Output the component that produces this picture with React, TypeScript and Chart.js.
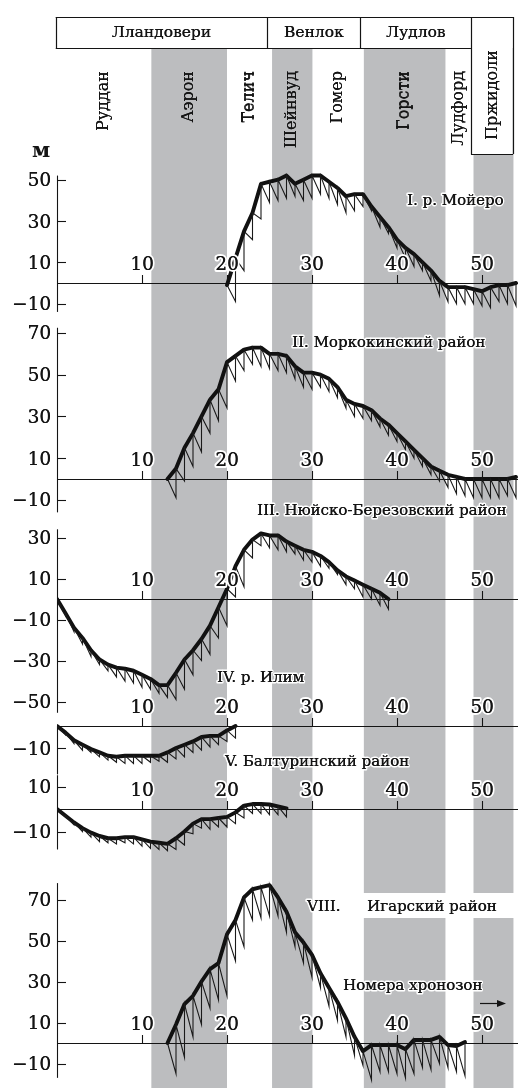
import React, { useEffect, useRef } from "react";
import { Chart, registerables } from "chart.js";

Chart.register(...registerables);

// ---------- DATA ----------
const seriesNames = ["Лландовери", "Венлок", "Лудлов", "Пржидоли"];
const seriesBounds = [-0.15, 24.7, 35.7, 48.7, 53.6];
const stageNames = ["Руддан", "Аэрон", "Телич", "Шейнвуд", "Гомер", "Горсти", "Лудфорд", "Пржидоли"];
const stageBounds = [0, 11.1, 20, 25.3, 30.05, 36.1, 45.7, 49, 53.7];
const shadedStages = [1, 3, 5, 7];
const xTickValues = [10, 20, 30, 40, 50];

// I. р. Мойеро
const startI = 20;
const topsI = [-1, 12, 25, 34, 48, 49, 50, 52, 48, 50, 52, 52, 49, 46, 42, 43, 43, 37, 32, 27, 21, 17, 14, 10, 6, 1, -2, -2, -2, -3, -4, -2, -1, -1, 0];
const lowsI = [null, -9, 6, 21, 31, 39, 40, 41, 42, 40, 41, 43, 41, 38, 34, 35, 37, 35, 27, 24, 17, 12, 8, 6, 1, -6, -9, -10, -10, -10, -11, -12, -9, -10, -11];

// II. Моркокинский район
const startII = 13;
const topsII = [0, 5, 15, 22, 30, 38, 43, 56, 59, 62, 63, 63, 60, 60, 59, 54, 51, 51, 50, 48, 44, 38, 36, 35, 33, 29, 26, 22, 18, 14, 10, 6, 4, 2, 1, 0, 0, 0, 0, 0, 0, 1];
const lowsII = [null, -9, -1, 6, 13, 22, 28, 34, 47, 52, 55, 54, 53, 52, 51, 48, 44, 43, 44, 42, 39, 34, 30, 29, 28, 25, 21, 18, 14, 10, 6, 2, -1, -4, -7, -8, -9, -9, -9, -9, -8, -9];

// III. Нюйско-Березовский район
const startIII = 20;
const topsIII = [5, 16, 24, 29, 32, 31, 31, 28, 26, 24, 23, 21, 18, 14, 11, 9, 7, 5, 3, 0];
const lowsIII = [null, 1, 6, 20, 26, 25, 24, 23, 22, 19, 18, 16, 15, 12, 7, 5, 1, 0, -3, -5];

// IV. р. Илим
const startIV = 0;
const topsIV = [0, -7, -14, -19, -25, -29.5, -32, -33.5, -34, -35, -37, -39, -42, -42, -36, -29.5, -25, -19.5, -13, -4, 5];
const lowsIV = [null, -8, -16, -22, -28, -32, -35, -38, -40, -41, -43, -44, -46, -48, -49, -44, -37, -30, -27, -19, -13];

// V. Балтуринский район
const startV = 0;
const topsV = [0, -3, -6.5, -8.5, -10.5, -12, -13.5, -14, -13.5, -13.5, -13.5, -13.5, -13.5, -12, -10, -8.5, -7, -5, -4.5, -4.5, -2, 0];
const lowsV = [null, -4, -8, -11, -12, -14, -15.5, -16.5, -17, -17, -17, -16.5, -16, -16.5, -15, -14, -12, -11, -9.5, -8.5, -7, -5.5];

// VI (unlabelled)
const startVI = 0;
const topsVI = [0, -3, -6, -8.5, -10.5, -12, -13, -13, -12.5, -12.5, -13.5, -14.5, -15, -15.5, -13, -10, -6.5, -4.5, -4.5, -4, -3.5, -1.5, 1.5, 2.2, 2.2, 2, 1.2, 0.3];
const lowsVI = [null, -3.5, -7, -10, -12.5, -14.5, -15, -15.5, -15, -15.5, -16.5, -17.5, -18, -18.5, -18, -16, -11, -8.5, -9, -8, -8, -6.5, -4, -2, -2, -2.5, -2.5, -3.5];

// VIII. Игарский район
const startVIII = 13;
const topsVIII = [0, 9, 19, 23, 30, 36, 39, 53, 60, 71, 75, 76, 77, 71, 64, 54, 49, 43, 34, 27, 20, 12, 3, -4, -1, -1, -1, -1, -3, 1.5, 1.5, 1.5, 3, -1, -1.5, 0.5];
const lowsVIII = [null, -15, -7, 3, 9, 17, 21, 23, 40, 47, 60, 61, 62, 62, 54, 47, 39, 32, 27, 18, 11, 3, -6, -11, -18, -14, -14, -15, -17, -15, -12, -13, -10, -12, -14, -16];

// ---------- LAYOUT ----------
const W = 518;
const H = 1088;
const X0PX = 57;
const PX_PER_ZONE = 8.5;
const HEADER_TOP = 17;
const HEADER_BOTTOM = 48;
const PRZ_BOX_BOTTOM = 154;
const BAND = "#bcbdbf";
const INK = "#141414";
const SERIF = '"DejaVu Serif", "Liberation Serif", serif';

const axes = [
  { id: "yI", zero: 283, k: 2.066, from: 52, to: -14, ticks: [50, 30, 10, -10] },
  { id: "yII", zero: 479, k: 2.086, from: 72.5, to: -16, ticks: [70, 50, 30, 10, -10] },
  { id: "yIII", zero: 599, k: 2.05, from: 34, to: -55.5, ticks: [30, 10, -10, -30, -50] },
  { id: "yV", zero: 726, k: 2.2, from: 0, to: -22, ticks: [-10] },
  { id: "yVI", zero: 809, k: 2.25, from: 15, to: -18, ticks: [10, -10] },
  { id: "yVIII", zero: 1043, k: 2.05, from: 78, to: -17, ticks: [70, 50, 30, 10, -10] },
];

const panels = [
  { axis: "yI", start: startI, tops: topsI, lows: lowsI },
  { axis: "yII", start: startII, tops: topsII, lows: lowsII },
  { axis: "yIII", start: startIII, tops: topsIII, lows: lowsIII },
  { axis: "yIII", start: startIV, tops: topsIV, lows: lowsIV },
  { axis: "yV", start: startV, tops: topsV, lows: lowsV },
  { axis: "yVI", start: startVI, tops: topsVI, lows: lowsVI },
  { axis: "yVIII", start: startVIII, tops: topsVIII, lows: lowsVIII },
];

const titles = [
  { text: "I. р. Мойеро", x: 407, y: 205 },
  { text: "II. Моркокинский район", x: 292, y: 347 },
  { text: "III. Нюйско-Березовский район", x: 257, y: 515 },
  { text: "IV. р. Илим", x: 217, y: 682 },
  { text: "V. Балтуринский район", x: 225, y: 766 },
  { text: "VIII.", x: 307, y: 911 },
  { text: "Игарский район", x: 367, y: 911 },
  { text: "Номера хронозон", x: 343, y: 990 },
];

function tickText(v: number) {
  return v < 0 ? "\u2212" + Math.abs(v) : String(v);
}

function haloText(ctx: CanvasRenderingContext2D, text: string, x: number, y: number, lw = 3) {
  ctx.save();
  ctx.lineJoin = "round";
  ctx.strokeStyle = "#ffffff";
  ctx.lineWidth = lw;
  ctx.strokeText(text, x, y);
  ctx.restore();
  ctx.fillText(text, x, y);
  // slight emboldening to imitate the heavier print face
  ctx.fillText(text, x + 0.35, y);
}

function hLine(ctx: CanvasRenderingContext2D, x0: number, x1: number, y: number) {
  const yy = Math.round(y) + 0.5;
  ctx.beginPath();
  ctx.moveTo(x0, yy);
  ctx.lineTo(x1, yy);
  ctx.stroke();
}
function vLine(ctx: CanvasRenderingContext2D, x: number, y0: number, y1: number) {
  const xx = Math.round(x) + 0.5;
  ctx.beginPath();
  ctx.moveTo(xx, y0);
  ctx.lineTo(xx, y1);
  ctx.stroke();
}

const stratPlugin = {
  id: "strat",
  beforeDatasetsDraw(chart: any) {
    const ctx: CanvasRenderingContext2D = chart.ctx;
    const xs = chart.scales.x;
    const X = (v: number) => xs.getPixelForValue(v);
    const right = chart.chartArea.right;
    ctx.save();
    ctx.fillStyle = "#ffffff";
    ctx.fillRect(0, 0, W, H);

    // stage bands
    ctx.fillStyle = BAND;
    shadedStages.forEach((i) => {
      const a = X(stageBounds[i]);
      const b = X(stageBounds[i + 1]);
      ctx.fillRect(a, HEADER_BOTTOM, b - a, H - HEADER_BOTTOM);
    });
    // white gap behind the VIII label
    ctx.fillStyle = "#ffffff";
    ctx.fillRect(360, 893, W - 360, 25);

    // header boxes
    const sx = seriesBounds.map(X);
    ctx.fillStyle = "#ffffff";
    ctx.fillRect(sx[3], HEADER_TOP, sx[4] - sx[3], PRZ_BOX_BOTTOM - HEADER_TOP);
    ctx.strokeStyle = INK;
    ctx.lineWidth = 1.2;
    hLine(ctx, sx[0], sx[4] + 0.5, HEADER_TOP);
    hLine(ctx, sx[0], sx[3], HEADER_BOTTOM);
    hLine(ctx, sx[3], sx[4] + 0.5, PRZ_BOX_BOTTOM);
    vLine(ctx, sx[0], HEADER_TOP, HEADER_BOTTOM);
    vLine(ctx, sx[1], HEADER_TOP, HEADER_BOTTOM);
    vLine(ctx, sx[2], HEADER_TOP, HEADER_BOTTOM);
    vLine(ctx, sx[3], HEADER_TOP, PRZ_BOX_BOTTOM);
    vLine(ctx, sx[4], HEADER_TOP, PRZ_BOX_BOTTOM);

    ctx.fillStyle = INK;
    ctx.font = "15.5px " + SERIF;
    ctx.textAlign = "center";
    ctx.textBaseline = "alphabetic";
    for (let i = 0; i < 3; i++) {
      const cx = (sx[i] + sx[i + 1]) / 2;
      ctx.fillText(seriesNames[i], cx, 37);
      ctx.fillText(seriesNames[i], cx + 0.35, 37);
    }

    // stage names (rotated)
    ctx.font = "16px " + SERIF;
    stageNames.forEach((name, i) => {
      const cx = X((stageBounds[i] + stageBounds[i + 1]) / 2) + 4;
      const top = i === 7 ? 50 : 71;
      ctx.save();
      ctx.translate(cx, top);
      ctx.rotate(-Math.PI / 2);
      ctx.textAlign = "right";
      ctx.textBaseline = "alphabetic";
      ctx.fillText(name, 0, 0);
      ctx.fillText(name, 0, -0.35);
      ctx.restore();
    });

    // zero lines, x ticks, y axes
    ctx.strokeStyle = INK;
    ctx.lineWidth = 1.1;
    axes.forEach((a) => {
      const ys = chart.scales[a.id];
      const y0 = ys.getPixelForValue(0);
      hLine(ctx, X(0), right, y0);
      xTickValues.forEach((t) => vLine(ctx, X(t), y0 - 8, y0));
      vLine(ctx, X(0), ys.getPixelForValue(a.from), ys.getPixelForValue(a.to));
      a.ticks.forEach((t) => hLine(ctx, X(0), X(0) + 9, ys.getPixelForValue(t)));
    });
    ctx.restore();
  },
  afterDatasetsDraw(chart: any) {
    const ctx: CanvasRenderingContext2D = chart.ctx;
    const xs = chart.scales.x;
    const X = (v: number) => xs.getPixelForValue(v);
    ctx.save();
    ctx.fillStyle = INK;
    ctx.textBaseline = "alphabetic";

    // y tick labels
    ctx.font = "18.5px " + SERIF;
    ctx.textAlign = "right";
    axes.forEach((a) => {
      const ys = chart.scales[a.id];
      a.ticks.forEach((t) => haloText(ctx, tickText(t), 51, ys.getPixelForValue(t) + 6.5, 3));
    });
    // x tick labels
    ctx.textAlign = "center";
    axes.forEach((a) => {
      const y0 = chart.scales[a.id].getPixelForValue(0);
      xTickValues.forEach((t) => haloText(ctx, String(t), X(t), y0 - 13.5, 4));
    });

    // unit
    ctx.font = "bold 21px " + SERIF;
    ctx.textAlign = "center";
    ctx.fillText("м", 41, 157);

    // panel titles
    ctx.font = "15px " + SERIF;
    ctx.textAlign = "left";
    titles.forEach((t) => haloText(ctx, t.text, t.x, t.y, 3));

    // arrow
    ctx.strokeStyle = INK;
    ctx.lineWidth = 1.2;
    ctx.beginPath();
    ctx.moveTo(480, 1003.5);
    ctx.lineTo(500, 1003.5);
    ctx.stroke();
    ctx.beginPath();
    ctx.moveTo(506, 1003.5);
    ctx.lineTo(497, 1000);
    ctx.lineTo(497, 1007);
    ctx.closePath();
    ctx.fill();
    ctx.restore();
  },
};

function sawtooth(start: number, tops: number[], lows: (number | null)[]) {
  const pts: { x: number; y: number }[] = [{ x: start, y: tops[0] }];
  for (let i = 1; i < tops.length; i++) {
    pts.push({ x: start + i, y: lows[i] as number });
    pts.push({ x: start + i, y: tops[i] });
  }
  return pts;
}
function curve(start: number, tops: number[]) {
  return tops.map((v, i) => ({ x: start + i, y: v }));
}

export default function App() {
  const ref = useRef<HTMLCanvasElement>(null);
  useEffect(() => {
    if (!ref.current) return;
    const datasets: any[] = [];
    panels.forEach((p) => {
      datasets.push({
        data: sawtooth(p.start, p.tops, p.lows),
        yAxisID: p.axis,
        borderColor: "#1a1a1a",
        borderWidth: 1.1,
        pointRadius: 0,
        tension: 0,
        borderJoinStyle: "miter",
        fill: false,
      });
      datasets.push({
        data: curve(p.start, p.tops),
        yAxisID: p.axis,
        borderColor: "#111111",
        borderWidth: 3.9,
        pointRadius: 0,
        tension: 0,
        borderJoinStyle: "round",
        borderCapStyle: "round",
        fill: false,
      });
    });
    const scales: any = {
      x: { type: "linear", min: 0, max: (W - X0PX) / PX_PER_ZONE, display: false },
    };
    axes.forEach((a) => {
      scales[a.id] = {
        type: "linear",
        display: false,
        min: -(H - a.zero) / a.k,
        max: a.zero / a.k,
      };
    });
    const chart = new Chart(ref.current, {
      type: "line",
      data: { datasets },
      options: {
        responsive: false,
        animation: false,
        events: [],
        layout: { padding: { left: X0PX, right: 0, top: 0, bottom: 0 } },
        plugins: { legend: { display: false }, tooltip: { enabled: false } },
        scales,
      },
      plugins: [stratPlugin],
    } as any);
    return () => chart.destroy();
  }, []);
  return (
    <div style={{ position: "absolute", left: 0, top: 0, width: W, height: H, background: "#fff" }}>
      <canvas ref={ref} width={W} height={H} style={{ display: "block", width: W, height: H }} />
    </div>
  );
}
